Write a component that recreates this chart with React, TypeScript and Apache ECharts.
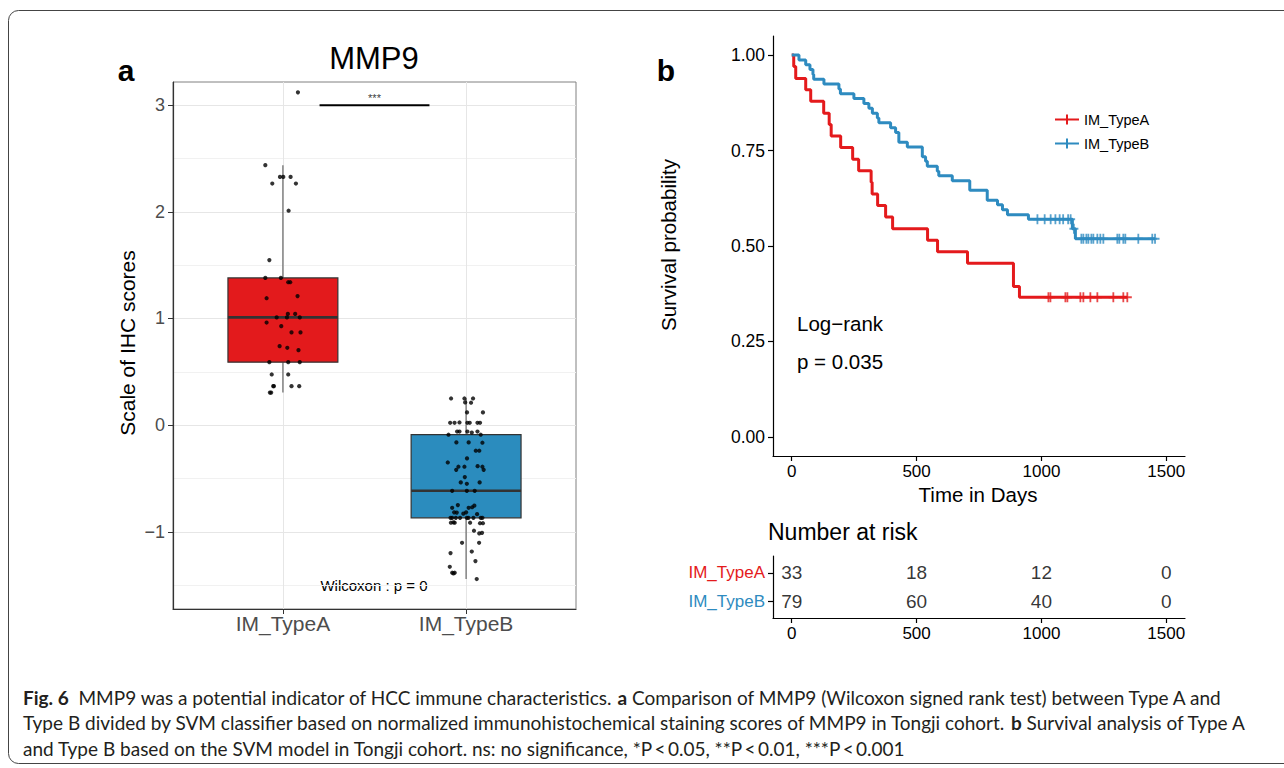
import React, { useEffect, useRef } from "react";
import * as echarts from "echarts";

const FONT = "'Liberation Sans', Arial, Helvetica, sans-serif";
const CAPTION_FONT = "Lato, 'Liberation Sans', Arial, sans-serif";
const RED = "#E41A1C";
const BLUE = "#2E8BC0";

// ---------- Panel a: MMP9 IHC scores ----------
const boxCategories = ["IM_TypeA", "IM_TypeB"];
const boxFills = ["#E31A1C", "#2B8CBE"];
const boxYTicks = [-1, 0, 1, 2, 3];
const boxYMinorTicks = [-1.5, -0.5, 0.5, 1.5, 2.5];

const groupAValues = [
  3.12, 2.437, 2.327, 2.327, 2.327, 2.265, 2.265, 2.01, 1.547, 1.38, 1.38, 1.34, 1.34, 1.21, 1.19,
  1.043, 1.043, 1.01, 1.01, 1.01, 0.962, 0.928, 0.869, 0.869, 0.74, 0.725, 0.703, 0.59, 0.59, 0.59,
  0.475, 0.475, 0.365, 0.365, 0.365, 0.365, 0.305, 0.305,
];
const groupAJitter = [
  1.082, 0.904, 0.984, 1.002, 1.042, 0.942, 1.071, 1.031, 0.926, 0.904, 0.989, 1.029, 1.04, 1.08, 0.911,
  1.027, 1.067, 0.966, 1.022, 1.092, 0.911, 0.991, 1.047, 1.096, 0.982, 1.024, 1.085, 0.926, 1.029, 1.092,
  0.939, 1.029, 0.951, 0.947, 1.047, 1.089, 0.929, 0.936,
];

const groupBValues = [
  0.25, 0.25, 0.25, 0.213, 0.21, 0.119, 0.119,
  0.022, 0.022, 0.025, 0.022, 0.022, 0.022, 0.022,
  -0.09, -0.06, -0.06, -0.06, -0.07, -0.06, -0.09,
  -0.162, -0.162, -0.165, -0.24, -0.24, -0.312, -0.35,
  -0.39, -0.39, -0.385, -0.39, -0.419, -0.419, -0.487,
  -0.537, -0.55, -0.537, -0.616, -0.616, -0.616,
  -0.75, -0.755, -0.775, -0.775, -0.77, -0.818, -0.82, -0.818, -0.83, -0.835,
  -0.869, -0.869, -0.869, -0.869, -0.869, -0.869, -0.869, -0.869, -0.869,
  -0.915, -0.912, -0.915, -0.915, -0.92, -0.92,
  -0.99, -1.015, -1.01, -1.103, -1.103, -1.185, -1.2, -1.275, -1.328,
  -1.384, -1.384, -1.39, -1.443,
];
const groupBJitter = [
  1.918, 1.991, 2.038, 1.995, 2.027, 2.005, 2.092,
  1.913, 1.937, 1.964, 2.007, 2.02, 2.062, 2.076,
  1.904, 1.951, 1.964, 2.007, 2.031, 2.062, 2.08,
  1.947, 2.014, 2.089, 2.053, 2.072, 2.005, 1.9,
  1.958, 1.991, 2.063, 2.089, 1.946, 2.096, 1.993,
  1.971, 2.004, 2.074, 1.924, 2.004, 2.047,
  1.955, 2.045, 1.924, 2.014, 2.033, 1.935, 1.949, 2.0, 1.985, 2.06,
  1.915, 1.924, 1.944, 1.967, 2.004, 2.013, 2.04, 2.08, 2.089,
  1.917, 1.931, 1.938, 2.022, 2.092, 2.076,
  2.043, 2.072, 2.087, 1.978, 2.071, 2.031, 1.915, 2.051, 1.911,
  1.924, 1.938, 1.931, 2.058,
];

const sigBracket = [1.2, 1.8];
const sigLevel = 3.0;
const sigLabel = "***";
const wilcoxonLabel = "Wilcoxon : p = 0";

// ---------- Panel b: Kaplan-Meier ----------
const kmGroups = ["IM_TypeA", "IM_TypeB"];
const kmXTicks = [0, 500, 1000, 1500];
const kmYTicks = [0, 0.25, 0.5, 0.75, 1];

const typeATimes = [0, 8, 16, 56, 76, 128, 150, 158, 196, 244, 268, 318, 322, 344, 376, 404, 544, 584, 704, 888, 912];
const typeASurv = [1, 0.97, 0.939, 0.909, 0.879, 0.848, 0.818, 0.788, 0.758, 0.727, 0.697, 0.667, 0.636, 0.606, 0.576, 0.545, 0.515, 0.485, 0.455, 0.394, 0.366];
const typeAEnd = 1344;
const typeACensor = [1028, 1036, 1096, 1104, 1156, 1168, 1196, 1224, 1288, 1328, 1344];

const typeBTimes = [0, 29, 56, 73, 85, 88, 129, 189, 195, 249, 289, 309, 323, 343, 349, 396, 416, 429, 463, 523, 536, 543, 583, 589, 643, 713, 783, 824, 844, 864, 948, 1124, 1136];
const typeBSurv = [1, 0.987, 0.975, 0.962, 0.949, 0.937, 0.924, 0.911, 0.899, 0.886, 0.873, 0.861, 0.848, 0.835, 0.823, 0.81, 0.797, 0.772, 0.759, 0.734, 0.722, 0.709, 0.696, 0.684, 0.671, 0.646, 0.62, 0.608, 0.595, 0.582, 0.57, 0.545, 0.519];
const typeBEnd = 1455;
const typeBCensor = [984, 1013, 1037, 1056, 1073, 1087, 1107, 1117, 1130, 1160, 1168, 1180, 1188, 1200, 1208, 1224, 1236, 1248, 1304, 1312, 1328, 1336, 1388, 1444, 1455];

const riskTimes = [0, 500, 1000, 1500];
const riskTypeA = [33, 18, 12, 0];
const riskTypeB = [79, 60, 40, 0];

const captionLines = [
  "{b|Fig. 6}  MMP9 was a potential indicator of HCC immune characteristics. {b|a} Comparison of MMP9 (Wilcoxon signed rank test) between Type A and",
  "Type B divided by SVM classifier based on normalized immunohistochemical staining scores of MMP9 in Tongji cohort. {b|b} Survival analysis of Type A",
  "and Type B based on the SVM model in Tongji cohort. ns: no significance, *P\u2009<\u20090.05, **P\u2009<\u20090.01, ***P\u2009<\u20090.001",
];

// ---------- helpers ----------
function quantile7(sorted: number[], p: number) {
  const h = (sorted.length - 1) * p;
  const lo = Math.floor(h);
  const hi = Math.ceil(h);
  return sorted[lo] + (sorted[hi] - sorted[lo]) * (h - lo);
}
function tukey(values: number[]) {
  const s = [...values].sort((a, b) => a - b);
  const q1 = quantile7(s, 0.25);
  const med = quantile7(s, 0.5);
  const q3 = quantile7(s, 0.75);
  const iqr = q3 - q1;
  const lo = Math.min(...s.filter((v) => v >= q1 - 1.5 * iqr));
  const hi = Math.max(...s.filter((v) => v <= q3 + 1.5 * iqr));
  return [lo, q1, med, q3, hi];
}
function survivalAt(times: number[], surv: number[], t: number) {
  let s = surv[0];
  for (let i = 0; i < times.length; i++) if (times[i] <= t) s = surv[i];
  return s;
}
const minus = (v: number) => (v < 0 ? "\u2212" + Math.abs(v) : String(v));

const PLUS = "path://M4,0 h2 v4 h4 v2 h-4 v4 h-2 v-4 h-4 v-2 h4 z";
const LEGEND_ICON = "path://M0,4 h11 v-4 h2 v4 h11 v2 h-11 v4 h-2 v-4 h-11 z";

function buildOption() {
  const groups = [groupAValues, groupBValues];
  const boxData = boxCategories.map((_, i) => [i + 1, ...tukey(groups[i]), i]);
  const jitterData = [
    ...groupAValues.map((v, i) => [groupAJitter[i], v]),
    ...groupBValues.map((v, i) => [groupBJitter[i], v]),
  ];
  const kmA = [...typeATimes.map((t, i) => [t, typeASurv[i]]), [typeAEnd, typeASurv[typeASurv.length - 1]]];
  const kmB = [...typeBTimes.map((t, i) => [t, typeBSurv[i]]), [typeBEnd, typeBSurv[typeBSurv.length - 1]]];

  const kmXAxis = (gridIndex: number) => ({
    gridIndex,
    type: "value",
    min: -75,
    max: 1575,
    axisLine: { show: true, onZero: false, lineStyle: { color: "#000", width: 1.2 } },
    axisTick: { show: true, customValues: kmXTicks, length: 5, lineStyle: { color: "#000", width: 1.2 } },
    axisLabel: {
      customValues: kmXTicks,
      formatter: (v: number) => String(v),
      fontSize: 17,
      color: "#000",
      margin: 7,
      fontFamily: FONT,
    },
    splitLine: { show: false },
  });

  return {
    animation: false,
    backgroundColor: "#fff",
    textStyle: { fontFamily: FONT },
    grid: [
      { left: 173, top: 82, width: 403, height: 527, show: true, borderColor: "#808080", borderWidth: 1, outerBoundsMode: "none" },
      { left: 773, top: 36, width: 412, height: 420, outerBoundsMode: "none" },
      { left: 773, top: 556, width: 412, height: 62, outerBoundsMode: "none" },
    ],
    legend: {
      data: kmGroups,
      left: 1050,
      top: 107,
      orient: "vertical",
      itemGap: 9,
      itemWidth: 24,
      itemHeight: 10,
      icon: LEGEND_ICON,
      selectedMode: false,
      textStyle: { fontSize: 14.5, color: "#000", fontFamily: FONT },
    },
    xAxis: [
      {
        gridIndex: 0,
        type: "value",
        min: 0.4,
        max: 2.6,
        axisLine: { show: true, onZero: false, lineStyle: { color: "#333", width: 1.2 } },
        axisTick: { show: true, customValues: [1, 2], length: 5, lineStyle: { color: "#333" } },
        axisLabel: {
          customValues: [1, 2],
          formatter: (v: number) => boxCategories[Math.round(v) - 1] ?? "",
          fontSize: 21,
          color: "#4d4d4d",
          margin: 4,
          fontFamily: FONT,
        },
        splitLine: { show: true, lineStyle: { color: "#e6e6e6", width: 1 } },
      },
      kmXAxis(1),
      kmXAxis(2),
    ],
    yAxis: [
      {
        gridIndex: 0,
        type: "value",
        min: -1.724,
        max: 3.217,
        axisLine: { show: true, onZero: false, lineStyle: { color: "#333", width: 1.2 } },
        axisTick: { show: true, customValues: boxYTicks, length: 5, lineStyle: { color: "#333" } },
        axisLabel: { customValues: boxYTicks, formatter: minus, fontSize: 18, color: "#4d4d4d", margin: 8, fontFamily: FONT },
        splitLine: { show: true, lineStyle: { color: "#e6e6e6", width: 1 } },
      },
      {
        gridIndex: 0,
        type: "value",
        min: -1.724,
        max: 3.217,
        position: "left",
        axisLine: { show: false },
        axisTick: { show: false, customValues: boxYMinorTicks },
        axisLabel: { show: false, customValues: boxYMinorTicks },
        splitLine: { show: true, lineStyle: { color: "#f1f1f1", width: 1 } },
      },
      {
        gridIndex: 1,
        type: "value",
        min: -0.05,
        max: 1.05,
        axisLine: { show: true, onZero: false, lineStyle: { color: "#000", width: 1.2 } },
        axisTick: { show: true, customValues: kmYTicks, length: 5, lineStyle: { color: "#000", width: 1.2 } },
        axisLabel: { customValues: kmYTicks, formatter: (v: number) => v.toFixed(2), fontSize: 17.5, color: "#000", margin: 8, fontFamily: FONT },
        splitLine: { show: false },
      },
      {
        gridIndex: 2,
        type: "value",
        min: 0.4,
        max: 2.6,
        axisLine: { show: true, onZero: false, lineStyle: { color: "#000", width: 1.2 } },
        axisTick: { show: true, customValues: [1, 2], length: 5, lineStyle: { color: "#000", width: 1.2 } },
        axisLabel: {
          customValues: [1, 2],
          formatter: (v: number) => (Math.round(v) === 2 ? "{a|" + kmGroups[0] + "}" : "{b|" + kmGroups[1] + "}"),
          margin: 8,
          rich: {
            a: { color: RED, fontSize: 17, fontFamily: FONT },
            b: { color: BLUE, fontSize: 17, fontFamily: FONT },
          },
        },
        splitLine: { show: false },
      },
    ],
    series: [
      {
        type: "custom",
        name: "box",
        xAxisIndex: 0,
        yAxisIndex: 0,
        z: 2,
        encode: { x: 0, y: [1, 2, 3, 4, 5] },
        data: boxData,
        renderItem: (params: any, api: any) => {
          const x = api.value(0);
          const lo = api.value(1);
          const q1 = api.value(2);
          const med = api.value(3);
          const q3 = api.value(4);
          const hi = api.value(5);
          const idx = api.value(6);
          const hw = 0.3;
          const tl = api.coord([x - hw, q3]);
          const br = api.coord([x + hw, q1]);
          const pHi = api.coord([x, hi]);
          const pQ3 = api.coord([x, q3]);
          const pQ1 = api.coord([x, q1]);
          const pLo = api.coord([x, lo]);
          const mL = api.coord([x - hw, med]);
          const mR = api.coord([x + hw, med]);
          return {
            type: "group",
            children: [
              { type: "line", shape: { x1: pHi[0], y1: pHi[1], x2: pQ3[0], y2: pQ3[1] }, style: { stroke: "#666", lineWidth: 1.2 } },
              { type: "line", shape: { x1: pQ1[0], y1: pQ1[1], x2: pLo[0], y2: pLo[1] }, style: { stroke: "#666", lineWidth: 1.2 } },
              {
                type: "rect",
                shape: { x: tl[0], y: tl[1], width: br[0] - tl[0], height: br[1] - tl[1] },
                style: { fill: boxFills[idx], stroke: "#333", lineWidth: 1.2 },
              },
              { type: "line", shape: { x1: mL[0], y1: mL[1], x2: mR[0], y2: mR[1] }, style: { stroke: "#333", lineWidth: 2.6 } },
            ],
          };
        },
      },
      {
        type: "scatter",
        name: "points",
        xAxisIndex: 0,
        yAxisIndex: 0,
        z: 3,
        symbolSize: 4.2,
        itemStyle: { color: "#000" },
        data: jitterData,
      },
      {
        type: "line",
        name: "signif",
        xAxisIndex: 0,
        yAxisIndex: 0,
        z: 3,
        symbol: "none",
        lineStyle: { color: "#000", width: 2 },
        data: sigBracket.map((x) => [x, sigLevel]),
      },
      {
        type: "scatter",
        name: "signifLabel",
        xAxisIndex: 0,
        yAxisIndex: 0,
        symbolSize: 1,
        itemStyle: { color: "transparent" },
        label: { show: true, position: "top", distance: 1, formatter: sigLabel, fontSize: 11, color: "#000", fontFamily: FONT },
        data: [[(sigBracket[0] + sigBracket[1]) / 2, sigLevel]],
      },
      {
        type: "line",
        name: kmGroups[0],
        xAxisIndex: 1,
        yAxisIndex: 2,
        step: "end",
        symbol: "none",
        showSymbol: false,
        z: 3,
        lineStyle: { color: RED, width: 3 },
        itemStyle: { color: RED },
        data: kmA,
      },
      {
        type: "line",
        name: kmGroups[1],
        xAxisIndex: 1,
        yAxisIndex: 2,
        step: "end",
        symbol: "none",
        showSymbol: false,
        z: 3,
        lineStyle: { color: BLUE, width: 3 },
        itemStyle: { color: BLUE },
        data: kmB,
      },
      {
        type: "scatter",
        name: "censorA",
        xAxisIndex: 1,
        yAxisIndex: 2,
        z: 4,
        symbol: PLUS,
        symbolSize: [9, 10],
        itemStyle: { color: RED },
        data: typeACensor.map((t) => [t, survivalAt(typeATimes, typeASurv, t)]),
      },
      {
        type: "scatter",
        name: "censorB",
        xAxisIndex: 1,
        yAxisIndex: 2,
        z: 4,
        symbol: PLUS,
        symbolSize: [9, 10],
        itemStyle: { color: BLUE },
        data: typeBCensor.map((t) => [t, survivalAt(typeBTimes, typeBSurv, t)]),
      },
      {
        type: "scatter",
        name: "risk",
        xAxisIndex: 2,
        yAxisIndex: 3,
        symbolSize: 1,
        itemStyle: { color: "transparent" },
        label: {
          show: true,
          position: "inside",
          formatter: (p: any) => String(p.value[2]),
          fontSize: 19,
          color: "#000",
          fontFamily: FONT,
        },
        data: [
          ...riskTimes.map((t, i) => [t, 2, riskTypeA[i]]),
          ...riskTimes.map((t, i) => [t, 1, riskTypeB[i]]),
        ],
      },
    ],
    graphic: [
      {
        type: "rect",
        silent: true,
        shape: { x: 8.5, y: 10.5, width: 1300, height: 753, r: 10 },
        style: { fill: "none", stroke: "#444", lineWidth: 1 },
      },
      { type: "text", x: 126, y: 70, style: { text: "a", fontSize: 30, fontWeight: "bold", fontFamily: FONT, fill: "#000", align: "center", verticalAlign: "middle" } },
      { type: "text", x: 666, y: 70, style: { text: "b", fontSize: 30, fontWeight: "bold", fontFamily: FONT, fill: "#000", align: "center", verticalAlign: "middle" } },
      { type: "text", x: 374, y: 58, style: { text: "MMP9", fontSize: 31, fontFamily: FONT, fill: "#000", align: "center", verticalAlign: "middle" } },
      { type: "text", x: 127, y: 343, rotation: Math.PI / 2, style: { text: "Scale of IHC scores", fontSize: 21, fontFamily: FONT, fill: "#000", align: "center", verticalAlign: "middle" } },
      { type: "text", x: 374, y: 585, style: { text: wilcoxonLabel, fontSize: 15, fontFamily: FONT, fill: "#000", align: "center", verticalAlign: "middle" } },
      { type: "text", x: 668, y: 245, rotation: Math.PI / 2, style: { text: "Survival probability", fontSize: 20.5, fontFamily: FONT, fill: "#000", align: "center", verticalAlign: "middle" } },
      { type: "text", x: 978, y: 494, style: { text: "Time in Days", fontSize: 20.5, fontFamily: FONT, fill: "#000", align: "center", verticalAlign: "middle" } },
      { type: "text", x: 797, y: 323, style: { text: "Log\u2212rank", fontSize: 20.5, fontFamily: FONT, fill: "#000", align: "left", verticalAlign: "middle" } },
      { type: "text", x: 797, y: 361, style: { text: "p = 0.035", fontSize: 20.5, fontFamily: FONT, fill: "#000", align: "left", verticalAlign: "middle" } },
      { type: "text", x: 768, y: 532, style: { text: "Number at risk", fontSize: 23, fontFamily: FONT, fill: "#000", align: "left", verticalAlign: "middle" } },
      ...captionLines.map((line, i) => ({
        type: "text",
        x: 23,
        y: 697 + i * 25.5,
        style: {
          text: line,
          fontSize: 19,
          fontFamily: CAPTION_FONT,
          fill: "#231f20",
          align: "left",
          verticalAlign: "middle",
          rich: { b: { fontWeight: "bold", fontSize: 19, fontFamily: CAPTION_FONT, fill: "#231f20" } },
        },
      })),
    ],
  };
}

export default function App() {
  const ref = useRef<HTMLDivElement>(null);
  useEffect(() => {
    if (!ref.current) return;
    const chart = echarts.init(ref.current, null, { renderer: "svg" });
    chart.setOption(buildOption() as any);
    return () => chart.dispose();
  }, []);
  return (
    <div
      ref={ref}
      style={{ position: "fixed", left: 0, top: 0, width: 1284, height: 768, background: "#fff" }}
    />
  );
}
